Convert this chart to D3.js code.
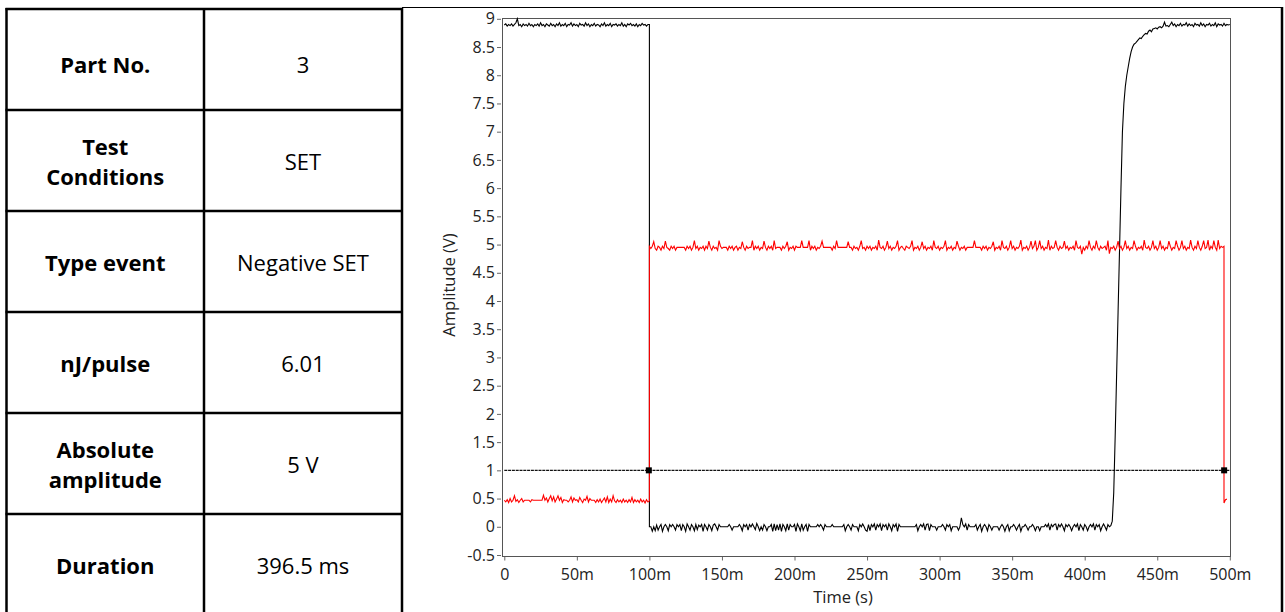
<!DOCTYPE html>
<html>
<head>
<meta charset="utf-8">
<script src="https://cdn.jsdelivr.net/npm/d3@7"></script>
<style>
  body { margin: 0; background: #fff; }
  svg { display: block; }
</style>
</head>
<body>
<div id="chart"></div>
<script>
// table on the left
var rowLabels = [["Part No."], ["Test", "Conditions"], ["Type event"], ["nJ/pulse"], ["Absolute", "amplitude"], ["Duration"]];
var rowValues = ["3", "SET", "Negative SET", "6.01", "5 V", "396.5 ms"];

// axes
var xTicks = [0, 50, 100, 150, 200, 250, 300, 350, 400, 450, 500];
var xTickLabels = ["0", "50m", "100m", "150m", "200m", "250m", "300m", "350m", "400m", "450m", "500m"];
var yTicks = [-0.5, 0, 0.5, 1, 1.5, 2, 2.5, 3, 3.5, 4, 4.5, 5, 5.5, 6, 6.5, 7, 7.5, 8, 8.5, 9];
var yTickLabels = ["-0.5", "0", "0.5", "1", "1.5", "2", "2.5", "3", "3.5", "4", "4.5", "5", "5.5", "6", "6.5", "7", "7.5", "8", "8.5", "9"];

// sampled traces, one value every 1 ms (time in ms, amplitude in V)
var sampleStep = 1;
var blackPre = [ // 0 .. 100 ms
  8.89, 8.91, 8.87, 8.90, 8.88, 8.91, 8.87, 8.90, 8.93, 9.00, 8.88, 8.90, 8.86, 8.91, 8.88, 8.90, 8.87, 8.92, 8.88, 8.90,
  8.86, 8.90, 8.88, 8.91, 8.87, 8.93, 8.88, 8.90, 8.86, 8.91, 8.89, 8.87, 8.92, 8.88, 8.90, 8.86, 8.91, 8.88, 8.93, 8.87,
  8.90, 8.88, 8.92, 8.86, 8.90, 8.89, 8.93, 8.87, 8.91, 8.88, 8.90, 8.86, 8.92, 8.89, 8.90, 8.87, 8.93, 8.88, 8.91, 8.86,
  8.90, 8.88, 8.92, 8.87, 8.90, 8.89, 8.86, 8.91, 8.88, 8.93, 8.87, 8.90, 8.88, 8.92, 8.86, 8.90, 8.89, 8.91, 8.87, 8.90,
  8.88, 8.93, 8.87, 8.90, 8.86, 8.91, 8.89, 8.92, 8.88, 8.90, 8.87, 8.91, 8.86, 8.90, 8.88, 8.92, 8.89, 8.90, 8.87, 8.90,
  8.90];
var blackLow = [ // 100 .. 418 ms
  0.00, 0.00, -0.08, 0.00, -0.07, 0.03, -0.06, 0.00, 0.04, -0.08, 0.00, 0.04, 0.00, -0.07, 0.04, 0.00, 0.04, 0.00, -0.06, 0.04,
  0.00, 0.04, -0.07, 0.04, 0.00, -0.08, 0.05, 0.00, -0.06, 0.04, 0.00, -0.07, 0.04, -0.05, 0.03, 0.00, 0.04, -0.08, 0.04, 0.00,
  -0.06, 0.04, 0.00, -0.07, 0.03, 0.05, 0.00, -0.06, 0.04, 0.00, 0.00, 0.00, 0.00, 0.00, 0.00, 0.04, 0.00, -0.06, 0.00, 0.00,
  0.00, 0.00, 0.04, 0.00, -0.07, 0.04, 0.00, 0.04, -0.06, 0.04, 0.00, 0.05, 0.00, -0.05, 0.06, 0.00, -0.07, 0.00, -0.06, 0.04,
  0.00, -0.07, 0.00, 0.00, 0.04, -0.08, 0.05, -0.07, 0.04, -0.06, 0.05, -0.08, 0.04, 0.00, -0.07, 0.05, -0.06, 0.04, 0.00, 0.00,
  0.04, -0.08, 0.05, 0.00, -0.07, 0.05, -0.06, 0.00, 0.04, -0.08, 0.04, 0.00, 0.00, 0.00, 0.00, 0.00, 0.04, 0.00, 0.04, 0.00,
  -0.06, 0.04, 0.00, 0.00, 0.00, 0.00, 0.04, 0.00, 0.00, 0.00, 0.00, 0.00, 0.00, 0.00, 0.04, -0.07, 0.00, 0.04, 0.00, -0.06,
  0.04, 0.00, 0.00, 0.00, -0.07, 0.04, 0.00, 0.05, 0.00, -0.06, -0.08, 0.04, -0.07, 0.04, 0.00, 0.05, -0.06, 0.04, 0.00, 0.05,
  -0.07, 0.04, 0.00, 0.04, -0.06, 0.05, 0.00, -0.07, 0.04, 0.00, 0.05, -0.08, 0.04, 0.00, 0.00, 0.00, 0.00, 0.00, 0.00, 0.00,
  0.00, 0.00, 0.00, 0.00, 0.04, -0.07, 0.00, 0.04, 0.00, 0.05, -0.06, 0.04, 0.05, -0.07, 0.04, 0.00, 0.00, 0.00, -0.06, 0.00,
  0.00, 0.00, 0.04, 0.00, -0.06, 0.04, 0.00, 0.04, -0.07, 0.00, 0.00, 0.00, 0.00, -0.06, 0.00, 0.16, 0.04, 0.00, 0.05, -0.06,
  0.04, 0.00, 0.00, 0.00, 0.00, 0.04, -0.06, 0.00, 0.04, -0.08, 0.00, 0.04, 0.00, -0.07, 0.04, 0.00, -0.06, 0.00, 0.00, 0.00,
  0.00, -0.06, 0.00, 0.04, 0.00, -0.08, 0.00, 0.04, -0.07, 0.00, 0.00, 0.04, 0.00, -0.06, 0.00, 0.04, -0.08, 0.00, 0.00, 0.04,
  0.00, -0.06, 0.00, 0.00, 0.04, 0.00, -0.07, 0.00, 0.00, -0.07, 0.00, 0.00, 0.00, 0.04, 0.00, 0.05, -0.06, 0.04, 0.00, 0.04,
  0.05, -0.06, 0.04, 0.00, 0.05, 0.00, -0.07, 0.04, 0.00, 0.04, 0.00, -0.07, 0.00, 0.04, 0.00, 0.05, -0.07, 0.04, 0.00, -0.06,
  0.04, 0.00, -0.07, 0.00, 0.04, 0.00, 0.05, -0.06, 0.04, 0.00, 0.04, -0.07, 0.00, 0.05, 0.00, -0.06, 0.04, 0.00, 0.02];
var blackRise = [ // 419 .. 500 ms
  0.10, 0.60, 1.60, 2.70, 3.80, 4.90, 6.00, 7.00, 7.50, 7.80, 8.00, 8.15, 8.30, 8.42, 8.50, 8.55, 8.57, 8.60, 8.63, 8.66,
  8.65, 8.69, 8.72, 8.74, 8.73, 8.78, 8.80, 8.77, 8.82, 8.83, 8.84, 8.82, 8.85, 8.86, 8.84, 8.87, 8.94, 8.87, 8.88, 8.86,
  8.90, 8.94, 8.88, 8.91, 8.86, 8.90, 8.88, 8.92, 8.87, 8.90, 8.89, 8.93, 8.87, 8.91, 8.88, 8.90, 8.86, 8.92, 8.89, 8.90,
  8.87, 8.93, 8.88, 8.91, 8.86, 8.90, 8.89, 8.92, 8.87, 8.90, 8.88, 8.93, 8.86, 8.91, 8.89, 8.90, 8.87, 8.92, 8.88, 8.90,
  8.89, 8.90];
var redPre = [ // 0 .. 100 ms
  0.47, 0.44, 0.48, 0.43, 0.50, 0.44, 0.47, 0.55, 0.45, 0.48, 0.43, 0.47, 0.50, 0.44, 0.47, 0.47, 0.47, 0.47, 0.44, 0.48,
  0.47, 0.47, 0.47, 0.47, 0.47, 0.47, 0.47, 0.56, 0.47, 0.51, 0.44, 0.50, 0.55, 0.46, 0.53, 0.44, 0.49, 0.55, 0.47, 0.52,
  0.43, 0.48, 0.47, 0.47, 0.44, 0.47, 0.53, 0.44, 0.51, 0.47, 0.48, 0.44, 0.52, 0.47, 0.43, 0.49, 0.47, 0.54, 0.44, 0.50,
  0.47, 0.47, 0.47, 0.43, 0.48, 0.44, 0.49, 0.43, 0.47, 0.51, 0.44, 0.53, 0.43, 0.49, 0.44, 0.55, 0.46, 0.43, 0.48, 0.44,
  0.47, 0.43, 0.49, 0.44, 0.47, 0.43, 0.48, 0.44, 0.52, 0.43, 0.48, 0.44, 0.47, 0.43, 0.49, 0.44, 0.47, 0.42, 0.48, 0.44,
  0.46];
var redHigh = [ // 100 .. 496 ms
  4.97, 4.93, 4.97, 5.05, 4.93, 4.90, 4.97, 4.95, 4.90, 4.97, 4.93, 5.06, 4.95, 4.93, 4.90, 4.97, 4.93, 4.97, 4.90, 4.95,
  4.95, 4.95, 4.95, 4.95, 4.95, 4.90, 4.97, 4.93, 4.97, 4.90, 4.95, 5.07, 4.93, 4.97, 4.90, 4.95, 4.93, 4.97, 4.90, 4.97,
  4.93, 5.06, 4.95, 4.90, 4.97, 4.93, 4.95, 4.90, 5.07, 4.97, 4.93, 4.95, 4.95, 4.95, 4.90, 4.97, 4.93, 4.97, 4.90, 4.95,
  4.97, 4.90, 4.95, 4.93, 5.05, 4.95, 4.90, 4.97, 4.93, 4.95, 4.95, 5.07, 4.90, 4.97, 4.93, 4.97, 4.90, 4.95, 4.93, 5.06,
  4.95, 4.90, 4.97, 4.93, 4.97, 4.90, 5.07, 4.93, 4.95, 4.95, 4.95, 4.90, 4.97, 4.93, 4.97, 5.05, 4.90, 4.95, 4.93, 4.97,
  4.90, 4.97, 4.95, 4.95, 4.95, 5.07, 4.95, 4.95, 4.95, 4.95, 5.07, 4.90, 4.97, 4.93, 4.97, 4.90, 4.95, 4.93, 4.97, 5.06,
  4.95, 4.95, 4.95, 4.95, 4.95, 4.95, 4.90, 4.97, 4.93, 5.07, 4.95, 4.95, 4.95, 4.95, 4.95, 4.95, 4.95, 5.05, 4.95, 4.95,
  4.90, 4.97, 4.93, 4.95, 4.90, 4.97, 5.07, 4.93, 4.95, 4.90, 4.97, 4.93, 4.97, 4.90, 4.95, 4.93, 4.97, 4.90, 5.08, 4.95,
  4.93, 4.97, 4.90, 4.95, 5.06, 4.93, 4.97, 4.90, 4.95, 4.93, 4.97, 5.07, 4.90, 4.95, 4.97, 4.93, 4.90, 4.97, 4.95, 4.93,
  4.97, 5.07, 4.90, 4.95, 4.93, 4.97, 4.90, 4.95, 5.05, 4.93, 4.97, 4.90, 4.95, 4.93, 4.97, 4.90, 5.07, 4.95, 4.93, 4.97,
  4.90, 4.95, 4.93, 4.97, 5.07, 4.90, 4.95, 4.93, 4.97, 4.90, 4.95, 4.93, 5.06, 4.97, 4.90, 4.95, 4.93, 4.97, 4.90, 4.95,
  4.95, 4.95, 4.95, 4.95, 5.07, 4.95, 4.95, 4.95, 4.95, 4.90, 4.97, 4.93, 4.97, 4.90, 4.95, 4.93, 4.97, 5.05, 4.90, 4.95,
  4.93, 4.97, 4.90, 5.07, 4.95, 4.93, 4.97, 4.90, 4.95, 5.07, 4.93, 4.97, 4.90, 4.95, 4.93, 4.97, 5.08, 4.90, 4.95, 4.93,
  4.97, 4.90, 4.95, 5.06, 4.93, 4.97, 5.07, 4.90, 4.95, 5.07, 4.93, 4.97, 4.90, 4.95, 4.93, 5.08, 4.90, 4.97, 4.93, 4.95,
  5.07, 4.95, 4.90, 4.97, 4.93, 4.95, 5.06, 4.93, 4.97, 4.90, 4.95, 4.93, 4.97, 4.90, 5.07, 4.95, 4.93, 4.97, 4.83, 4.95,
  4.90, 4.97, 4.93, 5.07, 4.95, 4.90, 4.97, 4.93, 5.07, 4.95, 4.90, 4.97, 4.93, 4.95, 4.97, 4.90, 5.07, 4.84, 4.95, 4.93,
  4.97, 4.90, 4.95, 5.06, 4.93, 4.97, 4.90, 4.95, 5.07, 4.93, 4.97, 4.90, 4.95, 4.93, 5.07, 4.97, 4.90, 4.95, 4.93, 4.97,
  4.90, 5.08, 4.95, 4.93, 4.97, 4.90, 4.95, 5.07, 4.93, 4.97, 4.90, 4.95, 5.07, 4.93, 4.97, 4.90, 4.95, 4.93, 5.06, 4.97,
  4.90, 4.95, 4.93, 5.07, 4.97, 4.90, 4.95, 5.07, 4.93, 4.97, 4.90, 4.95, 4.93, 5.08, 4.95, 4.90, 4.97, 4.93, 5.07, 4.95,
  4.90, 4.97, 5.07, 4.93, 4.95, 5.08, 4.90, 4.97, 4.93, 5.07, 4.95, 4.90, 5.08, 4.93, 4.97, 4.95, 4.97];
var redTail = [0.42, 0.48, 0.49]; // 496 .. 498 ms

// cursor level and the two cursor times (ms)
var cursorLevel = 1;
var cursorTimes = [99.6, 496.1];

var blackTrace = [
  { start: 0, step: sampleStep, values: blackPre },
  { start: 100, step: sampleStep, values: blackLow },
  { start: 419, step: sampleStep, values: blackRise }
];
var redTrace = [
  { start: 0, step: sampleStep, values: redPre },
  { start: 100, step: sampleStep, values: redHigh },
  { start: 496, step: sampleStep, values: redTail }
];

var W = 1285, H = 612;
var svg = d3.select("#chart")
  .append("svg")
  .attr("width", W)
  .attr("height", H);

drawTable();
drawPlot();

function drawTable() {
  var colX = [6.5, 204, 402];
  var rowTop = 9, rowH = 101;
  var g = svg.append("g");
  var font = "'Open Sans', 'Noto Sans', sans-serif";

  // grid lines
  for (var i = 0; i <= rowLabels.length; i++) {
    g.append("line")
      .attr("x1", colX[0] - 1).attr("x2", colX[2] + 1)
      .attr("y1", rowTop + i * rowH).attr("y2", rowTop + i * rowH)
      .style("stroke", "#000").style("stroke-width", 2.5);
  }
  colX.forEach(function (x) {
    g.append("line")
      .attr("x1", x).attr("x2", x)
      .attr("y1", rowTop - 1).attr("y2", H + 5)
      .style("stroke", "#000").style("stroke-width", 2.5);
  });

  rowLabels.forEach(function (lines, i) {
    var cy = rowTop + i * rowH + rowH / 2 + (i == 0 ? 6 : 1.5);
    lines.forEach(function (t, j) {
      g.append("text")
        .attr("x", (colX[0] + colX[1]) / 2)
        .attr("y", cy + (j - (lines.length - 1) / 2) * 30)
        .attr("dy", "0.36em")
        .attr("text-anchor", "middle")
        .style("font-family", font)
        .style("font-size", "22px")
        .style("font-weight", "700")
        .style("fill", "#000")
        .text(t);
    });
    g.append("text")
      .attr("x", (colX[1] + colX[2]) / 2)
      .attr("y", cy)
      .attr("dy", "0.36em")
      .attr("text-anchor", "middle")
      .style("font-family", font)
      .style("font-size", "22px")
      .style("fill", "#000")
      .text(rowValues[i]);
  });

  // outer border of the chart cell
  g.append("line")
    .attr("x1", 402).attr("x2", 1283)
    .attr("y1", 7.5).attr("y2", 7.5)
    .style("stroke", "#000").style("stroke-width", 1.2);
  g.append("line")
    .attr("x1", 1282).attr("x2", 1282)
    .attr("y1", 7).attr("y2", H + 5)
    .style("stroke", "#000").style("stroke-width", 2.5);
}

function drawPlot() {
  var font = "'Open Sans', 'Noto Sans', sans-serif";
  var x = d3.scaleLinear().domain([0, 500]).range([504.3, 1229.8]);
  var y = d3.scaleLinear().domain([-0.5, 9]).range([555, 18.8]);

  var g = svg.append("g");

  // y axis
  var yAxis = g.append("g")
    .attr("transform", "translate(501,0)")
    .call(d3.axisLeft(y).tickValues(yTicks).tickSize(4).tickPadding(2)
      .tickFormat(function (d, i) { return yTickLabels[i]; }));
  // x axis
  var xAxis = g.append("g")
    .attr("transform", "translate(0,556.5)")
    .call(d3.axisBottom(x).tickValues(xTicks).tickSize(4).tickPadding(8.5)
      .tickFormat(function (d, i) { return xTickLabels[i]; }));

  [yAxis, xAxis].forEach(function (a) {
    a.select(".domain").remove();
    a.selectAll("line").style("stroke", "#666");
    a.selectAll("text")
      .style("font-family", font)
      .style("font-size", "16px")
      .style("fill", "#222");
  });

  // plot frame
  g.append("rect")
    .attr("x", 502.5).attr("y", 18.5)
    .attr("width", 728).attr("height", 538)
    .style("fill", "none")
    .style("stroke", "#555")
    .style("stroke-width", 1);

  // axis titles
  g.append("text")
    .attr("x", 843).attr("y", 603)
    .attr("text-anchor", "middle")
    .style("font-family", font).style("font-size", "16.5px").style("fill", "#222")
    .text("Time (s)");
  g.append("text")
    .attr("transform", "translate(455,285) rotate(-90)")
    .attr("text-anchor", "middle")
    .style("font-family", font).style("font-size", "16.5px").style("fill", "#222")
    .text("Amplitude (V)");

  var line = d3.line()
    .x(function (d) { return x(d[0]); })
    .y(function (d) { return y(d[1]); });

  function toPoints(segments) {
    var pts = [];
    segments.forEach(function (s) {
      s.values.forEach(function (v, i) { pts.push([s.start + i * s.step, v]); });
    });
    return pts;
  }

  // cursor line
  g.append("path")
    .datum([[0, cursorLevel], [500, cursorLevel]])
    .attr("d", line)
    .style("fill", "none")
    .style("stroke", "#111")
    .style("stroke-width", 1.3)
    .style("stroke-dasharray", "3,0.8");

  g.append("path")
    .datum(toPoints(blackTrace))
    .attr("d", line)
    .style("fill", "none")
    .style("stroke", "#000")
    .style("stroke-width", 1.1);

  g.append("path")
    .datum(toPoints(redTrace))
    .attr("d", line)
    .style("fill", "none")
    .style("stroke", "#ff0000")
    .style("stroke-width", 1.1);

  g.selectAll(".cursor")
    .data(cursorTimes)
    .join("rect")
    .attr("class", "cursor")
    .attr("x", function (d) { return x(d) - 3; })
    .attr("y", y(cursorLevel) - 3)
    .attr("width", 6)
    .attr("height", 6)
    .style("fill", "#000");
}
</script>
</body>
</html>
